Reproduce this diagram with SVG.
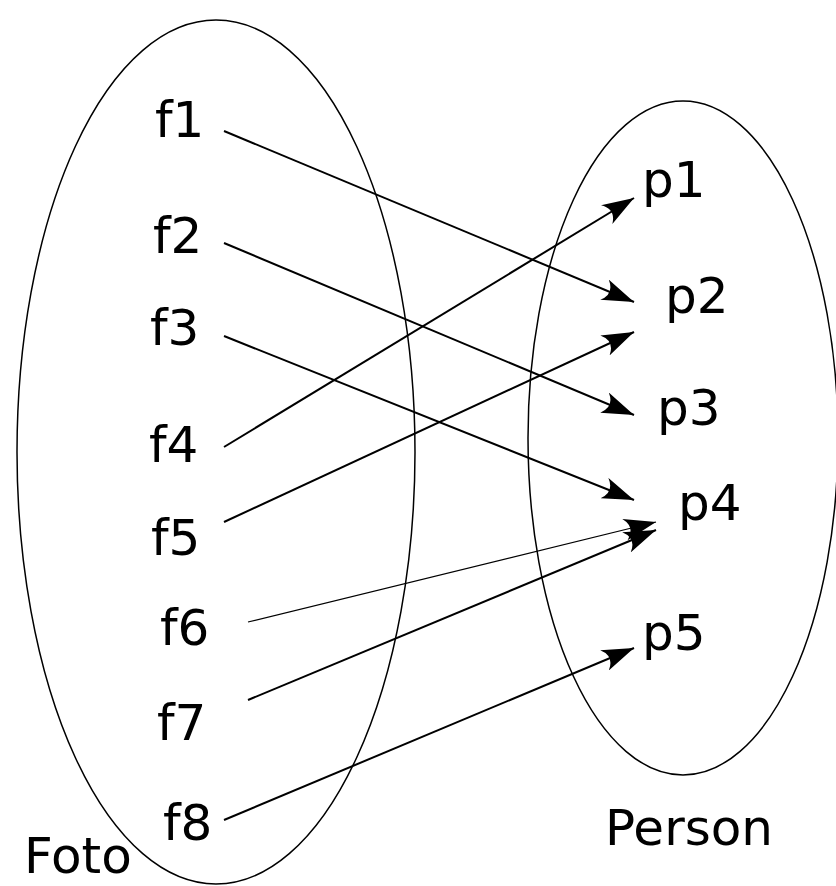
<svg xmlns="http://www.w3.org/2000/svg" width="836" height="886" viewBox="0 0 836 886">
<style>
.set{fill:none;stroke:#000;stroke-width:1.5}
.lbl{font-family:"DejaVu Sans",sans-serif;font-size:50px;fill:#000}
.c{fill:none;stroke:#000;stroke-width:2}
.thin{stroke-width:1.2}
</style>
<defs>
<marker id="ah" viewBox="-32 -11 34 22" refX="0" refY="0" markerWidth="34" markerHeight="22" markerUnits="userSpaceOnUse" orient="auto">
<path d="M0,0 L-32,-11 Q-21,0 -32,11 Z" fill="#000"/>
</marker>
</defs>
<g id="foto">
<ellipse class="set" cx="216" cy="452" rx="199" ry="432"/>
<text class="lbl" x="24" y="873">Foto</text>
</g>
<g id="person">
<ellipse class="set" cx="683" cy="438" rx="155" ry="337"/>
<text class="lbl" x="605" y="845">Person</text>
</g>
<g id="f1"><text class="lbl" x="155" y="137">f1</text></g>
<g id="f2"><text class="lbl" x="153" y="253">f2</text></g>
<g id="f3"><text class="lbl" x="150" y="345">f3</text></g>
<g id="f4"><text class="lbl" x="149" y="462">f4</text></g>
<g id="f5"><text class="lbl" x="151" y="555">f5</text></g>
<g id="f6"><text class="lbl" x="160" y="645">f6</text></g>
<g id="f7"><text class="lbl" x="157" y="740">f7</text></g>
<g id="f8"><text class="lbl" x="163" y="840">f8</text></g>
<g id="p1"><text class="lbl" x="642" y="197">p1</text></g>
<g id="p2"><text class="lbl" x="665" y="313">p2</text></g>
<g id="p3"><text class="lbl" x="657" y="425">p3</text></g>
<g id="p4"><text class="lbl" x="678" y="520">p4</text></g>
<g id="p5"><text class="lbl" x="642" y="650">p5</text></g>
<g id="connectors">
<line class="c" x1="224" y1="131" x2="634" y2="302" marker-end="url(#ah)"/>
<line class="c" x1="224" y1="243" x2="634" y2="415" marker-end="url(#ah)"/>
<line class="c" x1="224" y1="336" x2="634" y2="500" marker-end="url(#ah)"/>
<line class="c" x1="224" y1="447" x2="634" y2="198" marker-end="url(#ah)"/>
<line class="c" x1="224" y1="522" x2="634" y2="332" marker-end="url(#ah)"/>
<line class="c thin" x1="248" y1="622" x2="656" y2="522" marker-end="url(#ah)"/>
<line class="c" x1="248" y1="700" x2="656" y2="530" marker-end="url(#ah)"/>
<line class="c" x1="224" y1="820" x2="634" y2="648" marker-end="url(#ah)"/>
</g>
</svg>
